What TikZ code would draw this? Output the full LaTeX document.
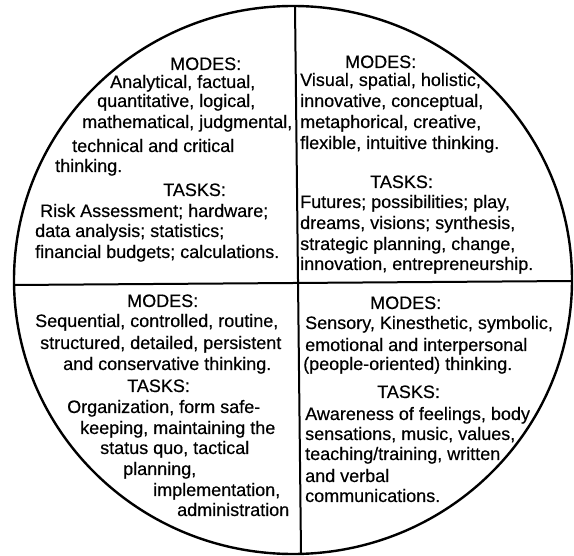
\documentclass[tikz,border=0pt]{standalone}
\usepackage{fontspec}
\setmainfont{Liberation Sans}
\newfontfamily\labelfont{Liberation Sans}[FakeBold=0.4]
\begin{document}
\begin{tikzpicture}[x=1pt,y=-1pt,
  txt/.style={anchor=base west, inner sep=0pt, font=\labelfont\fontsize{18}{21}\selectfont},
  rim/.style={line width=2.4pt},
  divider/.style={line width=2pt}]
\useasboundingbox (0,0) rectangle (574,556);

% outer circle and the two dividing lines
\draw[rim] (293,280) ellipse [x radius=279, y radius=274];
\coordinate (top) at (295,6);
\coordinate (bottom) at (301,553);
\coordinate (left) at (14,285);
\coordinate (right) at (572,281);
\draw[divider] (top) -- (bottom);
\draw[divider] (left) -- (right);

% upper left quadrant
\node[txt] (ulm)  at (170,70)  {MODES:};
\node[txt] (ul1)  at (110,88)  {Analytical, factual,};
\node[txt] (ul2)  at (97,107)  {quantitative, logical,};
\node[txt] (ul3)  at (82,128)  {mathematical, judgmental,};
\node[txt] (ul4)  at (72,152)  {technical and critical};
\node[txt] (ul5)  at (55,172)  {thinking.};
\node[txt] (ult)  at (163,196) {TASKS:};
\node[txt] (ul6)  at (40,217)  {Risk Assessment; hardware;};
\node[txt] (ul7)  at (35,237)  {data analysis; statistics;};
\node[txt] (ul8)  at (35,258)  {financial budgets; calculations.};

% upper right quadrant
\node[txt] (urm)  at (345,68)  {MODES:};
\node[txt] (ur1)  at (300,86)  {Visual, spatial, holistic,};
\node[txt] (ur2)  at (300,107) {innovative, conceptual,};
\node[txt] (ur3)  at (300,128) {metaphorical, creative,};
\node[txt] (ur4)  at (300,149) {flexible, intuitive thinking.};
\node[txt] (urt)  at (370,188) {TASKS:};
\node[txt] (ur5)  at (300,208) {Futures; possibilities; play,};
\node[txt] (ur6)  at (300,229) {dreams, visions; synthesis,};
\node[txt] (ur7)  at (300,250) {strategic planning, change,};
\node[txt] (ur8)  at (300,270) {innovation, entrepreneurship.};

% lower left quadrant
\node[txt] (llm)  at (127,307) {MODES:};
\node[txt] (ll1)  at (35,327)  {Sequential, controlled, routine,};
\node[txt] (ll2)  at (40,349)  {structured, detailed, persistent};
\node[txt] (ll3)  at (63,370)  {and conservative thinking.};
\node[txt] (llt)  at (127,392) {TASKS:};
\node[txt] (ll4)  at (67,413)  {Organization, form safe-};
\node[txt] (ll5)  at (80,434)  {keeping, maintaining the};
\node[txt] (ll6)  at (100,454) {status quo, tactical};
\node[txt] (ll7)  at (123,475) {planning,};
\node[txt] (ll8)  at (153,496) {implementation,};
\node[txt] (ll9)  at (177,516) {administration};

% lower right quadrant
\node[txt] (lrm)  at (370,309) {MODES:};
\node[txt] (lr1)  at (305,329) {Sensory, Kinesthetic, symbolic,};
\node[txt] (lr2)  at (305,351) {emotional and interpersonal};
\node[txt] (lr3)  at (303,370) {(people-oriented) thinking.};
\node[txt] (lrt)  at (377,398) {TASKS:};
\node[txt] (lr4)  at (305,420) {Awareness of feelings, body};
\node[txt] (lr5)  at (305,440) {sensations, music, values,};
\node[txt] (lr6)  at (305,460) {teaching/training, written};
\node[txt] (lr7)  at (305,482) {and verbal};
\node[txt] (lr8)  at (305,502) {communications.};
\end{tikzpicture}
\end{document}
